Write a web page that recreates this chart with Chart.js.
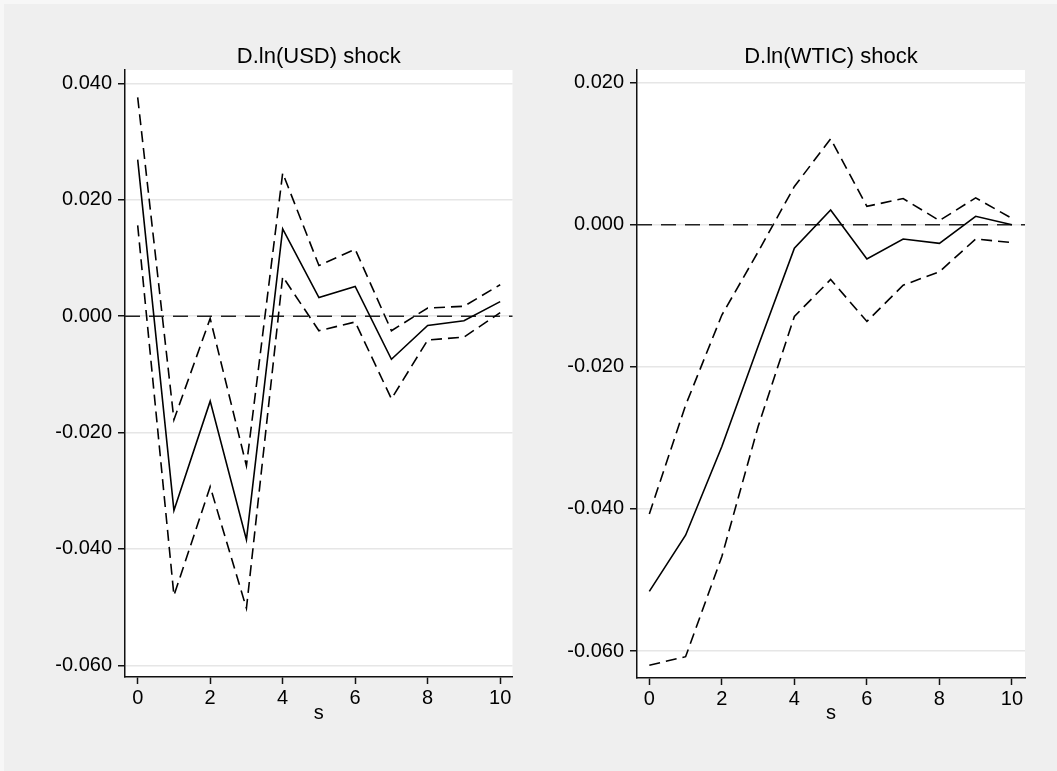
<!DOCTYPE html>
<html>
<head>
<meta charset="utf-8">
<title>IRF</title>
<script src="https://cdn.jsdelivr.net/npm/chart.js@4.4.1/dist/chart.umd.min.js"></script>
<style>
  html, body { margin: 0; padding: 0; background: #efefef; }
  body { width: 1057px; height: 771px; position: relative; overflow: hidden; }
  .edge-top { position: absolute; left: 0; top: 0; width: 1057px; height: 4px; background: #f7f7f7; }
  .edge-left { position: absolute; left: 0; top: 0; width: 4px; height: 771px; background: #f7f7f7; }
  .panel { position: absolute; top: 0; height: 771px; }
  #left { left: 0; width: 530px; }
  #right { left: 530px; width: 527px; }
</style>
</head>
<body>
<div class="edge-top"></div>
<div class="edge-left"></div>
<div class="panel" id="left"><canvas id="chart-usd"></canvas></div>
<div class="panel" id="right"><canvas id="chart-wtic"></canvas></div>
<script>
// horizon steps
const steps = [0, 1, 2, 3, 4, 5, 6, 7, 8, 9, 10];
const xTicks = [0, 2, 4, 6, 8, 10];

// D.ln(USD) shock: impulse response and confidence band
const usdIrf   = [0.0269, -0.0334, -0.0146, -0.0384, 0.0150, 0.0032, 0.0051, -0.0074, -0.0016, -0.0008, 0.0025];
const usdUpper = [0.0376, -0.0178, -0.0004, -0.0257, 0.0246, 0.0087, 0.0115, -0.0025, 0.0014, 0.0017, 0.0054];
const usdLower = [0.0156, -0.0480, -0.0293, -0.0502, 0.0068, -0.0025, -0.0010, -0.0142, -0.0041, -0.0036, 0.0006];
const usdTicks = [-0.06, -0.04, -0.02, 0, 0.02, 0.04];

// D.ln(WTIC) shock
const wticIrf   = [-0.0516, -0.0437, -0.0312, -0.0171, -0.0033, 0.0021, -0.0048, -0.0020, -0.0026, 0.0012, 0.0000];
const wticUpper = [-0.0407, -0.0254, -0.0127, -0.0038, 0.0054, 0.0121, 0.0026, 0.0037, 0.0006, 0.0038, 0.0009];
const wticLower = [-0.0620, -0.0608, -0.0467, -0.0284, -0.0129, -0.0077, -0.0136, -0.0085, -0.0066, -0.0020, -0.0025];
const wticTicks = [-0.06, -0.04, -0.02, 0, 0.02];

Chart.defaults.font.family = '"Liberation Sans", Arial, Helvetica, sans-serif';
Chart.defaults.color = '#000';

const AXIS = '#111';
const GRID = '#e6e6e6';

// white plot region, dashed zero reference and the panel heading
const panelPlugin = {
  id: 'panel',
  beforeDraw(chart) {
    const a = chart.chartArea;
    const ctx = chart.ctx;
    ctx.save();
    ctx.fillStyle = '#fff';
    ctx.fillRect(a.left, a.top, a.right - a.left, a.bottom - a.top);
    ctx.restore();
  },
  beforeDatasetsDraw(chart) {
    const a = chart.chartArea;
    const y0 = chart.scales.y.getPixelForValue(0);
    const ctx = chart.ctx;
    ctx.save();
    ctx.strokeStyle = '#222';
    ctx.lineWidth = 1.5;
    ctx.setLineDash([15, 9]);
    ctx.beginPath();
    ctx.moveTo(a.left, y0);
    ctx.lineTo(a.right, y0);
    ctx.stroke();
    ctx.restore();
  },
  afterDraw(chart, args, opts) {
    const a = chart.chartArea;
    const ctx = chart.ctx;
    ctx.save();
    ctx.font = '22px "Liberation Sans", Arial, sans-serif';
    ctx.fillStyle = '#000';
    ctx.textAlign = 'center';
    ctx.textBaseline = 'middle';
    ctx.fillText(opts.text, (a.left + a.right) / 2, 57);
    ctx.restore();
  }
};

function makeLine(data, dashed) {
  return {
    data: steps.map((s, i) => ({ x: s, y: data[i] })),
    borderColor: '#000',
    borderWidth: 1.6,
    borderDash: dashed ? [11, 6] : [],
    pointRadius: 0,
    tension: 0,
    fill: false,
  };
}

function buildPanel(canvasId, title, irf, upper, lower, yTicks, cfg) {
  return new Chart(document.getElementById(canvasId), {
    type: 'line',
    data: {
      datasets: [makeLine(irf, false), makeLine(upper, true), makeLine(lower, true)],
    },
    options: {
      responsive: true,
      maintainAspectRatio: false,
      animation: false,
      layout: { padding: { left: 0, right: cfg.padRight, top: 70, bottom: 0 } },
      plugins: {
        legend: { display: false },
        tooltip: { enabled: false },
        panel: { text: title },
      },
      scales: {
        x: {
          type: 'linear',
          min: cfg.xMin,
          max: cfg.xMax,
          afterBuildTicks: (s) => { s.ticks = xTicks.map((v) => ({ value: v })); },
          afterFit: (s) => { s.height = cfg.xHeight; },
          ticks: { font: { size: 20 }, padding: 2, maxRotation: 0, autoSkip: false },
          grid: { drawOnChartArea: false, tickLength: 7, tickColor: AXIS, tickWidth: 1.5 },
          border: { color: AXIS, width: 1.5 },
          title: { display: true, text: 's', font: { size: 20 }, padding: { top: 0, bottom: 46 } },
        },
        y: {
          min: cfg.yMin,
          max: cfg.yMax,
          afterBuildTicks: (s) => { s.ticks = yTicks.map((v) => ({ value: v })); },
          afterFit: (s) => { s.width = cfg.yWidth; },
          ticks: {
            font: { size: 20 },
            padding: 6,
            autoSkip: false,
            callback: (v) => (Math.abs(v) < 1e-9 ? 0 : v).toFixed(3),
          },
          grid: { color: GRID, lineWidth: 1.5, tickLength: 7, tickColor: AXIS, tickWidth: 1.5 },
          border: { color: AXIS, width: 1.5 },
        },
      },
    },
    plugins: [panelPlugin],
  });
}

buildPanel('chart-usd', 'D.ln(USD) shock', usdIrf, usdUpper, usdLower, usdTicks, {
  xMin: -0.35, xMax: 10.34, yMin: -0.062, yMax: 0.0423,
  yWidth: 125, xHeight: 94, padRight: 17.5,
});

buildPanel('chart-wtic', 'D.ln(WTIC) shock', wticIrf, wticUpper, wticLower, wticTicks, {
  xMin: -0.34, xMax: 10.36, yMin: -0.0638, yMax: 0.0218,
  yWidth: 107, xHeight: 93, padRight: 32,
});
</script>
</body>
</html>
